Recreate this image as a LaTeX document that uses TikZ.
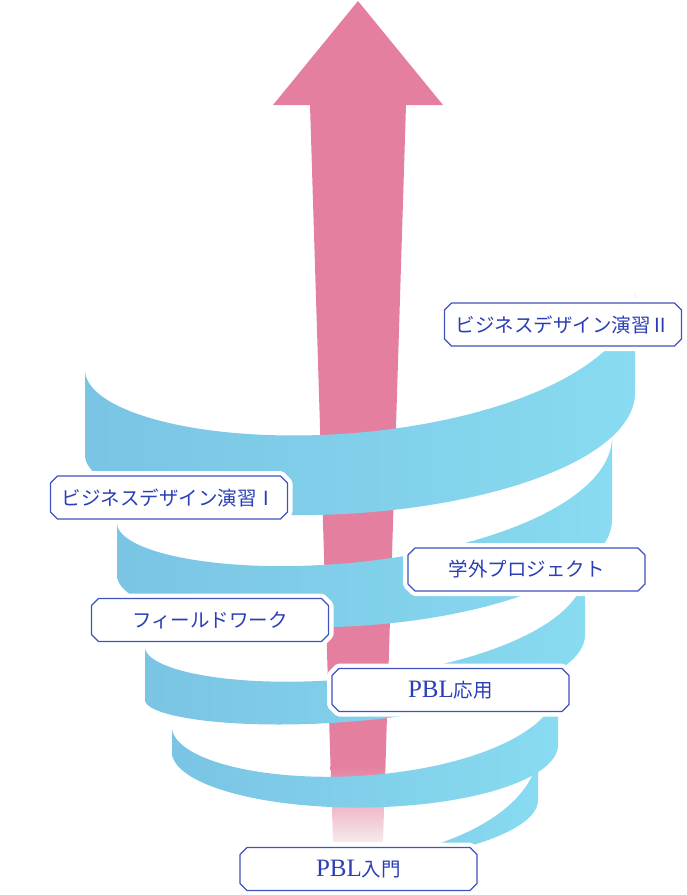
\documentclass[tikz,border=0pt]{standalone}
\usepackage{fontspec}
\setmainfont{Liberation Serif}
\newfontfamily\jp{Noto Sans CJK JP}
\definecolor{arrowpink}{RGB}{228,127,159}
\definecolor{arrowfade}{RGB}{248,234,236}
\definecolor{bandL}{RGB}{122,196,228}
\definecolor{bandR}{RGB}{136,219,240}
\definecolor{boxblue}{RGB}{62,82,192}
\definecolor{txtblue}{RGB}{42,62,182}
\tikzset{
  boxstyle/.style={fill=white, draw=boxblue, line width=1.2pt, line join=round,
    preaction={draw=white, line width=10pt, line join=round}},
  boxtext/.style={text=txtblue, inner sep=0pt, font=\jp\fontsize{19.5}{19.5}\selectfont},
  bandshade/.style={left color=bandL, right color=bandR}
}
% cx, R, yTL, yTR, bT, yBL, yBR, bB, start angle
\newcommand\ribbonband[9]{%
  \shade[bandshade]
    plot[domain=#9:180, samples=100, variable=\t]
      ({#1-#2*cos(\t)},{#3+(#4-#3)*\t/180+#5*sin(\t)})
    -- plot[domain=180:#9, samples=100, variable=\t]
      ({#1-#2*cos(\t)},{#6+(#7-#6)*\t/180+#8*sin(\t)})
    -- cycle;}
% name, cx, cy, text
\newcommand\labelbox[4]{%
  \path[boxstyle] (#2-118.5,#3-14.5) -- (#2-111.5,#3-21.5) -- (#2+111.5,#3-21.5)
    -- (#2+118.5,#3-14.5) -- (#2+118.5,#3+14.5) -- (#2+111.5,#3+21.5)
    -- (#2-111.5,#3+21.5) -- (#2-118.5,#3+14.5) -- cycle;
  \node[boxtext] (#1) at (#2,#3) {#4};}
\newcommand\pbl{{\rmfamily\fontsize{25}{25}\selectfont PBL}}
\begin{document}
\begin{tikzpicture}[x=1pt,y=-1pt]
\useasboundingbox (0,0) rectangle (687,895);
% arrow
\fill[arrowpink] (358,1) -- (443,105) -- (406,105) -- (385.4,768) -- (330.6,768)
  -- (310,105) -- (273,105) -- cycle;
\shade[top color=arrowpink, bottom color=arrowfade] (330.6,766) -- (385.4,766)
  -- (383,842) -- (333,842) -- cycle;
% ribbon (lowest turn first)
\ribbonband{365}{173}{808}{750}{80.3}{850}{800}{39.3}{60}
\ribbonband{365}{193}{727}{685}{69.5}{752}{745}{59}{0}
\ribbonband{365}{220}{647}{570}{68.8}{700}{635}{52.9}{0}
\ribbonband{364.5}{247.5}{523}{437}{81.5}{575}{520}{78}{0}
\ribbonband{360}{275}{370}{293}{101}{455}{393}{89}{0}
% labels
\labelbox{bd2}{563}{324.5}{ビジネスデザイン演習Ⅱ}
\labelbox{bd1}{169}{497.5}{ビジネスデザイン演習Ⅰ}
\labelbox{gakugai}{526.5}{569.5}{学外プロジェクト}
\labelbox{field}{210}{620}{フィールドワーク}
\labelbox{oyo}{450.5}{690}{\pbl 応用}
\labelbox{nyumon}{358.5}{869}{\pbl 入門}
\end{tikzpicture}
\end{document}
